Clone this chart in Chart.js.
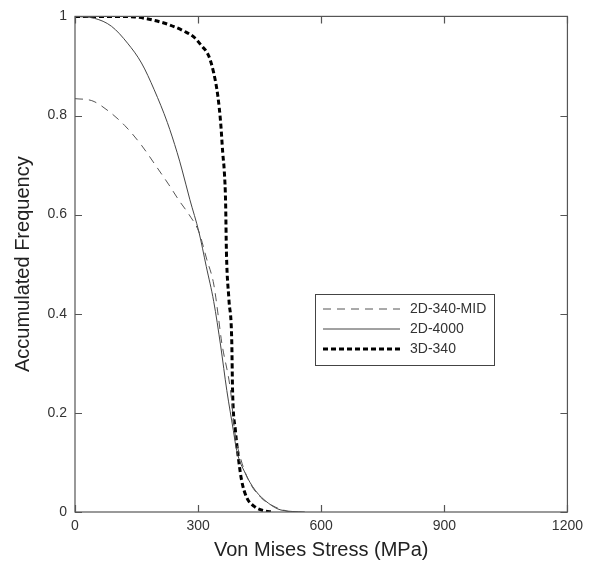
<!DOCTYPE html>
<html>
<head>
<meta charset="utf-8">
<script src="https://cdn.jsdelivr.net/npm/chart.js@4/dist/chart.umd.min.js"></script>
<style>
  html, body { margin: 0; padding: 0; background: #fff; }
  #wrap { width: 589px; height: 562px; }
</style>
</head>
<body>
<div id="wrap"><canvas id="chart" width="589" height="562"></canvas></div>
<script>
// Datos
const seriesLabels = ['2D-340-MID', '2D-4000', '3D-340'];

const midX = [0, 41, 80, 121, 162, 200, 229, 254, 278, 302, 321, 338, 350, 357, 379, 389, 403, 423, 452, 488, 524];
const midY = [0.834, 0.83, 0.81, 0.78, 0.74, 0.695, 0.66, 0.628, 0.6, 0.565, 0.51, 0.46, 0.39, 0.345, 0.245, 0.164, 0.11, 0.064, 0.03, 0.01, 0];

const d4000X = [0, 48, 89, 128, 162, 193, 225, 249, 261, 280, 302, 320, 338, 355, 370, 386, 394, 415, 439, 471, 502, 560];
const d4000Y = [1, 0.996, 0.98, 0.946, 0.906, 0.852, 0.786, 0.725, 0.69, 0.63, 0.565, 0.495, 0.425, 0.335, 0.245, 0.164, 0.124, 0.078, 0.044, 0.018, 0.004, 0];

const d3X = [0, 100, 145, 193, 230, 266, 290, 307, 326, 338, 348, 355, 360, 364, 367, 369, 375, 382, 384, 391, 398, 406, 418, 439, 463, 480];
const d3Y = [1, 1, 0.999, 0.992, 0.983, 0.97, 0.958, 0.942, 0.92, 0.886, 0.84, 0.785, 0.725, 0.685, 0.625, 0.525, 0.43, 0.345, 0.245, 0.164, 0.11, 0.064, 0.03, 0.01, 0.002, 0];

const xTicks = [0, 300, 600, 900, 1200];
const yTicks = [0, 0.2, 0.4, 0.6, 0.8, 1];

const FONT = '"Liberation Sans", Arial, sans-serif';
const toPoints = (xs, ys) => xs.map((x, i) => ({ x, y: ys[i] }));

// Marco con ticks hacia dentro + leyenda en recuadro
const framePlugin = {
    id: 'frame',
    afterDraw(chart) {
        const { ctx, chartArea: a, scales } = chart;
        ctx.save();
        ctx.strokeStyle = '#555';
        ctx.lineWidth = 1.2;
        ctx.setLineDash([]);
        ctx.strokeRect(a.left, a.top, a.right - a.left, a.bottom - a.top);
        const len = 7;
        xTicks.forEach(v => {
            const px = Math.round(scales.x.getPixelForValue(v)) + 0.5;
            ctx.beginPath();
            ctx.moveTo(px, a.bottom); ctx.lineTo(px, a.bottom - len);
            ctx.moveTo(px, a.top); ctx.lineTo(px, a.top + len);
            ctx.stroke();
        });
        yTicks.forEach(v => {
            const py = Math.round(scales.y.getPixelForValue(v)) + 0.5;
            ctx.beginPath();
            ctx.moveTo(a.left, py); ctx.lineTo(a.left + len, py);
            ctx.moveTo(a.right, py); ctx.lineTo(a.right - len, py);
            ctx.stroke();
        });

        // leyenda
        const bx = 315, by = 294, bw = 179, bh = 71;
        ctx.fillStyle = '#fff';
        ctx.fillRect(bx, by, bw, bh);
        ctx.strokeStyle = '#444';
        ctx.lineWidth = 1;
        ctx.strokeRect(bx + 0.5, by + 0.5, bw, bh);
        ctx.font = '14px ' + FONT;
        ctx.textBaseline = 'middle';
        chart.data.datasets.forEach((ds, i) => {
            const y = by + 15 + i * 20;
            ctx.strokeStyle = ds.borderColor;
            ctx.lineWidth = ds.borderWidth;
            ctx.setLineDash(ds.borderDash || []);
            ctx.beginPath();
            ctx.moveTo(bx + 8, y); ctx.lineTo(bx + 85, y);
            ctx.stroke();
            ctx.setLineDash([]);
            ctx.fillStyle = '#333';
            ctx.fillText(ds.label, bx + 95, y);
        });
        ctx.restore();
    }
};

new Chart(document.getElementById('chart'), {
    type: 'line',
    data: {
        datasets: [
            {
                label: seriesLabels[0],
                data: toPoints(midX, midY),
                borderColor: '#555',
                borderWidth: 1,
                borderDash: [8, 6],
                pointRadius: 0,
                cubicInterpolationMode: 'monotone',
                fill: false
            },
            {
                label: seriesLabels[1],
                data: toPoints(d4000X, d4000Y),
                borderColor: '#444',
                borderWidth: 1,
                pointRadius: 0,
                cubicInterpolationMode: 'monotone',
                fill: false
            },
            {
                label: seriesLabels[2],
                data: toPoints(d3X, d3Y),
                borderColor: '#000',
                borderWidth: 3,
                borderDash: [5, 3],
                pointRadius: 0,
                cubicInterpolationMode: 'monotone',
                fill: false
            }
        ]
    },
    options: {
        responsive: false,
        animation: false,
        layout: { padding: { top: 12, right: 17, left: 0, bottom: 0 } },
        plugins: {
            legend: { display: false },
            tooltip: { enabled: false }
        },
        scales: {
            x: {
                type: 'linear',
                min: 0, max: 1200,
                afterBuildTicks: (s) => { s.ticks = xTicks.map(v => ({ value: v })); },
                afterFit: (s) => { s.height = 50; },
                grid: { display: false, drawTicks: false },
                border: { display: false },
                ticks: {
                    padding: 6,
                    color: '#333',
                    font: { family: FONT, size: 14 },
                    maxRotation: 0,
                    callback: (v) => String(v)
                },
                title: {
                    display: true,
                    text: 'Von Mises Stress (MPa)',
                    color: '#222',
                    padding: { top: 0, bottom: 0 },
                    font: { family: FONT, size: 20 }
                }
            },
            y: {
                type: 'linear',
                min: 0, max: 1,
                afterBuildTicks: (s) => { s.ticks = yTicks.map(v => ({ value: v })); },
                afterFit: (s) => { s.width = 75; },
                grid: { display: false, drawTicks: false },
                border: { display: false },
                ticks: {
                    padding: 8,
                    color: '#333',
                    font: { family: FONT, size: 14 },
                    callback: (v) => String(Math.round(v * 10) / 10)
                },
                title: {
                    display: true,
                    text: 'Accumulated Frequency',
                    color: '#222',
                    padding: { top: 11, bottom: 0 },
                    font: { family: FONT, size: 20 }
                }
            }
        }
    },
    plugins: [framePlugin]
});
</script>
</body>
</html>
